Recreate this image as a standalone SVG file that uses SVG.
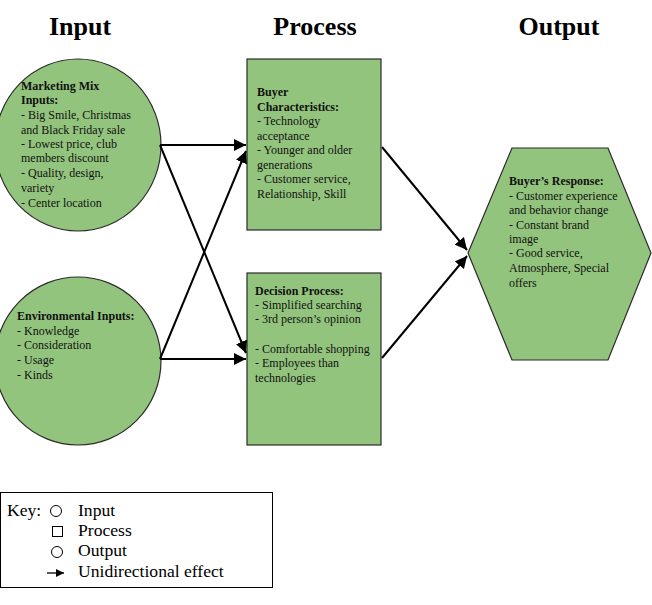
<svg xmlns="http://www.w3.org/2000/svg" width="652" height="605" viewBox="0 0 652 605">
<style>
.shape{fill:#93c47d;stroke:#2b2b2b;stroke-width:1.2}
.t{font-family:"Liberation Serif","Times New Roman",serif;font-size:12px;fill:#111}
.b{font-weight:bold}
.h{font-family:"Liberation Serif","Times New Roman",serif;font-size:26px;font-weight:bold;fill:#000;text-anchor:middle}
.k{font-family:"Liberation Serif","Times New Roman",serif;font-size:17.6px;fill:#000}
.c{stroke:#000;stroke-width:2;fill:none;marker-end:url(#ah)}
</style>
<defs>
<marker id="ah" viewBox="0 0 10 10" refX="10" refY="5" markerWidth="6" markerHeight="6" markerUnits="strokeWidth" orient="auto">
<path d="M0,0 L10,5 L0,10 z" fill="#000"/>
</marker>
<marker id="ahs" viewBox="0 0 10 10" refX="10" refY="5" markerWidth="10" markerHeight="8" markerUnits="userSpaceOnUse" orient="auto">
<path d="M0,0 L10,5 L0,10 z" fill="#000"/>
</marker>
</defs>
<rect width="652" height="605" fill="#fff"/>
<text class="h" x="80" y="35">Input</text>
<text class="h" x="315" y="35">Process</text>
<text class="h" x="559" y="35">Output</text>
<g id="input-marketing">
<ellipse class="shape" cx="78" cy="145" rx="83" ry="86"/>
<text class="t" x="21"><tspan class="b" x="21" y="90">Marketing Mix</tspan><tspan class="b" x="21" y="104">Inputs:</tspan><tspan x="21" y="119">- Big Smile, Christmas</tspan><tspan x="21" y="134">and Black Friday sale</tspan><tspan x="21" y="148">- Lowest price, club</tspan><tspan x="21" y="162">members discount</tspan><tspan x="21" y="177">- Quality, design,</tspan><tspan x="21" y="192">variety</tspan><tspan x="21" y="207">- Center location</tspan></text>
</g>
<g id="input-environmental">
<ellipse class="shape" cx="78" cy="361" rx="83" ry="84"/>
<text class="t" x="17"><tspan class="b" x="17" y="320">Environmental Inputs:</tspan><tspan x="17" y="335">- Knowledge</tspan><tspan x="17" y="349">- Consideration</tspan><tspan x="17" y="364">- Usage</tspan><tspan x="17" y="379">- Kinds</tspan></text>
</g>
<g id="process-buyer">
<rect class="shape" x="247" y="59" width="134" height="171"/>
<text class="t" x="257"><tspan class="b" x="257" y="96">Buyer</tspan><tspan class="b" x="257" y="111">Characteristics:</tspan><tspan x="257" y="125">- Technology</tspan><tspan x="257" y="140">acceptance</tspan><tspan x="257" y="154">- Younger and older</tspan><tspan x="257" y="169">generations</tspan><tspan x="257" y="183">- Customer service,</tspan><tspan x="257" y="198">Relationship, Skill</tspan></text>
</g>
<g id="process-decision">
<rect class="shape" x="247" y="273" width="134" height="172"/>
<text class="t" x="255"><tspan class="b" x="255" y="295">Decision Process:</tspan><tspan x="255" y="309">- Simplified searching</tspan><tspan x="255" y="323">- 3rd person’s opinion</tspan><tspan x="255" y="353">- Comfortable shopping</tspan><tspan x="255" y="367">- Employees than</tspan><tspan x="255" y="382">technologies</tspan></text>
</g>
<g id="output-response">
<polygon class="shape" points="468,253 512,148 608,148 651,253 608,360 512,360"/>
<text class="t" x="509"><tspan class="b" x="509" y="185">Buyer’s Response:</tspan><tspan x="509" y="200">- Customer experience</tspan><tspan x="509" y="214">and behavior change</tspan><tspan x="509" y="229">- Constant brand</tspan><tspan x="509" y="243">image</tspan><tspan x="509" y="257">- Good service,</tspan><tspan x="509" y="272">Atmosphere, Special</tspan><tspan x="509" y="287">offers</tspan></text>
</g>
<g id="connectors">
<line class="c" x1="160" y1="145" x2="246" y2="145"/>
<line class="c" x1="160" y1="145" x2="246" y2="353"/>
<line class="c" x1="160" y1="359" x2="246" y2="359"/>
<line class="c" x1="160" y1="359" x2="246" y2="151"/>
<line class="c" x1="382" y1="147" x2="467" y2="250"/>
<line class="c" x1="382" y1="358" x2="467" y2="256"/>
</g>
<g id="key">
<rect x="0.5" y="492.5" width="272" height="95" fill="#fff" stroke="#000" stroke-width="1"/>
<text class="k" x="7" y="516">Key:</text>
<circle cx="56" cy="511" r="5.5" fill="none" stroke="#000" stroke-width="1"/>
<text class="k" x="78" y="516">Input</text>
<rect x="52.5" y="526.5" width="10" height="10" fill="none" stroke="#000" stroke-width="1"/>
<text class="k" x="78" y="536">Process</text>
<circle cx="57" cy="552" r="5.5" fill="none" stroke="#000" stroke-width="1"/>
<text class="k" x="78" y="556">Output</text>
<line x1="47" y1="573" x2="64" y2="573" stroke="#000" stroke-width="1.3" marker-end="url(#ahs)"/>
<text class="k" x="78" y="577">Unidirectional effect</text>
</g>
</svg>
